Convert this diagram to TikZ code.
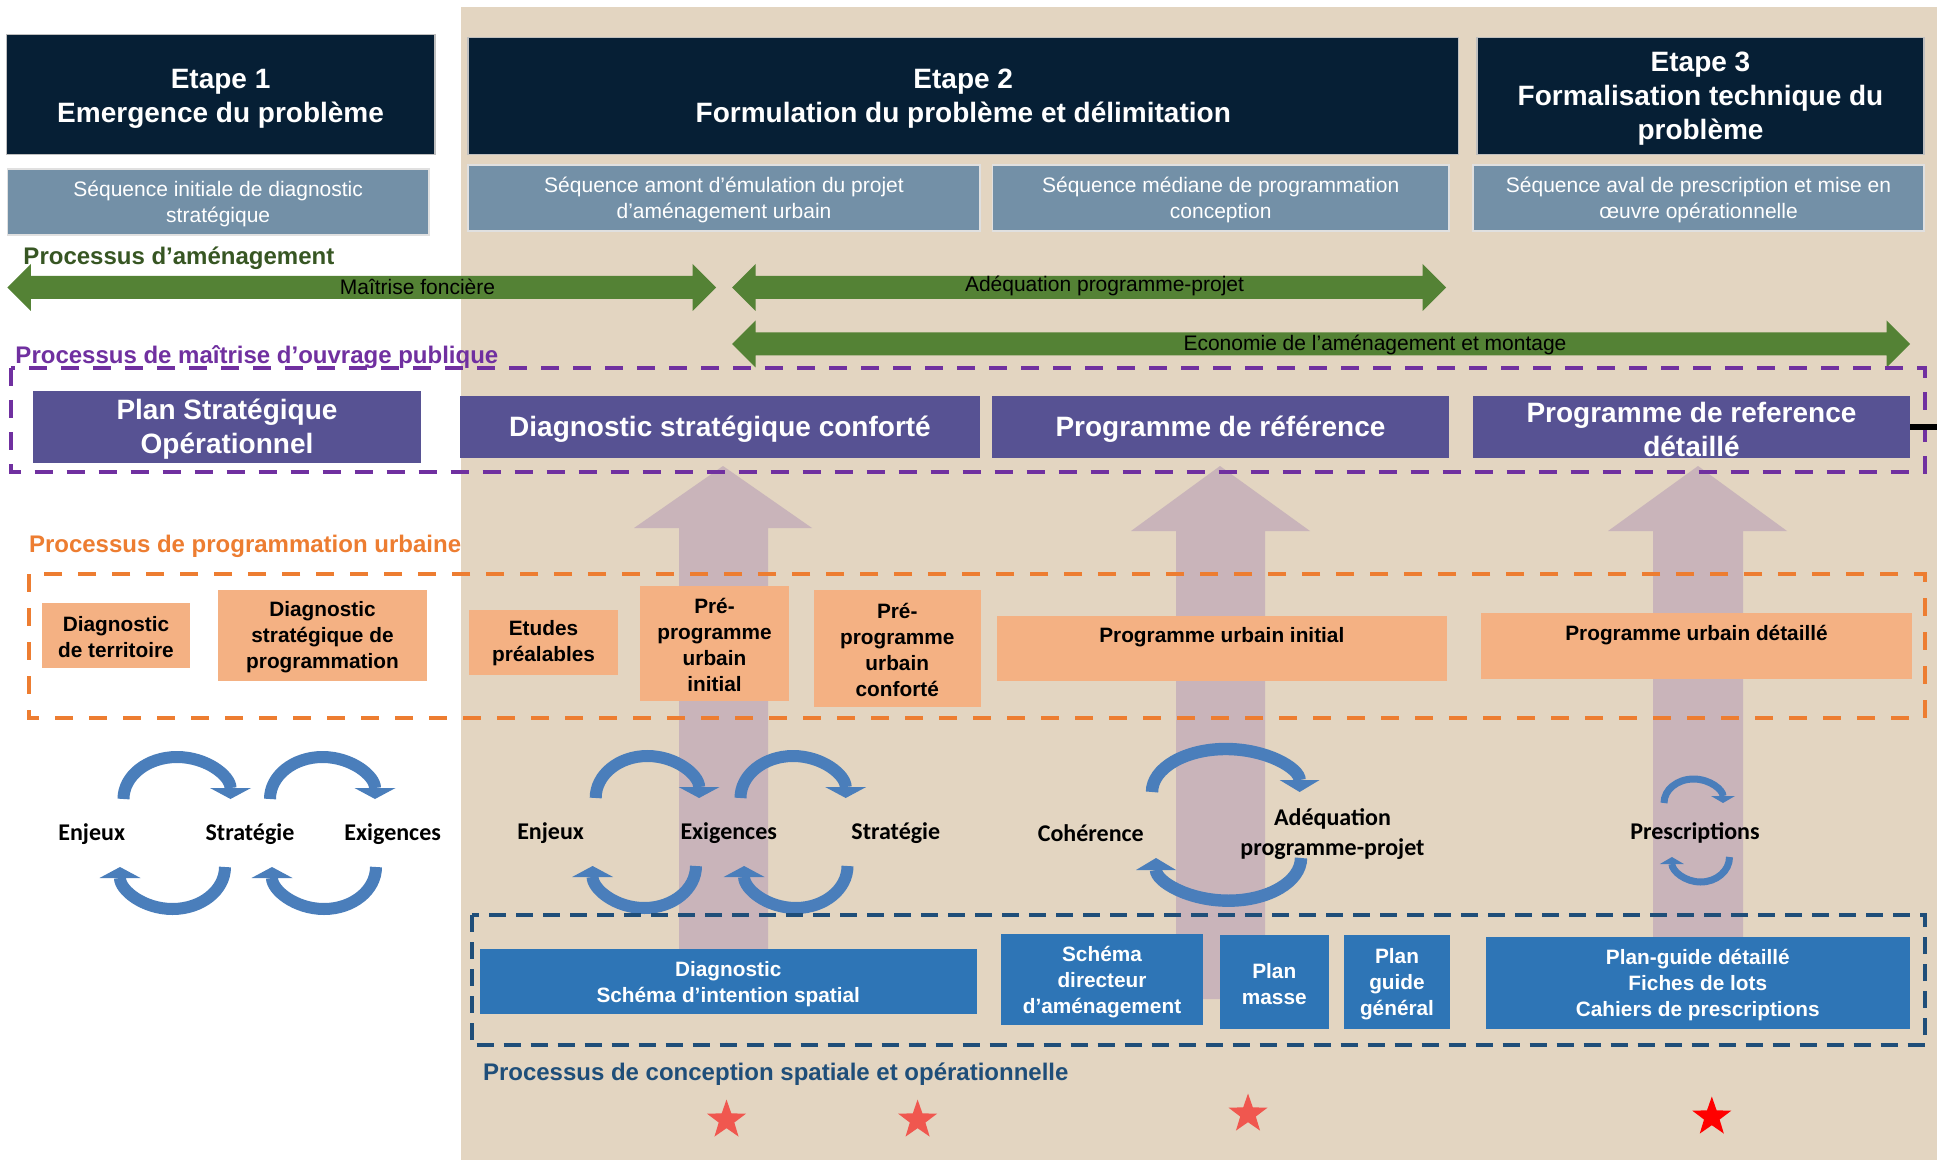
\documentclass[tikz,border=0pt]{standalone}
\usepackage{fontspec}
\setmainfont{Liberation Sans}
\newfontfamily\calib{Carlito}
\usetikzlibrary{shapes.geometric,arrows.meta}
\definecolor{cnavy}{HTML}{061F35}
\definecolor{cseq}{HTML}{7390A7}
\definecolor{cbeige}{HTML}{E3D5C1}
\definecolor{cgr}{HTML}{548235}
\definecolor{cgrtxt}{HTML}{375623}
\definecolor{cpurp}{HTML}{7030A0}
\definecolor{cpbox}{HTML}{575293}
\definecolor{corng}{HTML}{ED7D31}
\definecolor{cobox}{HTML}{F4B183}
\definecolor{cdblue}{HTML}{1F4E79}
\definecolor{cbbox}{HTML}{2E75B6}
\definecolor{cbig}{HTML}{C9B4BA}
\definecolor{ccyc}{HTML}{4A7EBB}
\definecolor{cstarA}{HTML}{F0574F}
\definecolor{cstarB}{HTML}{FF0000}
\newcommand\bx[7]{\node[#1, minimum width={(#5-#3)*0.5pt}, minimum height={(#6-#4)*0.5pt}] (#2) at ({(#3+#5)/2},{(#4+#6)/2}) {};
  \node[#1, fill=none, draw=none, #1 text] (#2t) at (#2.center) {#7};}
\newcommand\garrow[3]{\fill[cgr] (#1,#3) -- ({#1+23.5},{#3-23.5}) -- ({#1+23.5},{#3-11.5}) -- ({#2-23.5},{#3-11.5}) -- ({#2-23.5},{#3-23.5}) -- (#2,#3) -- ({#2-23.5},{#3+23.5}) -- ({#2-23.5},{#3+11.5}) -- ({#1+23.5},{#3+11.5}) -- ({#1+23.5},{#3+23.5}) -- cycle;}
\newcommand\bigarrow[8]{\fill[cbig] (#1,#8) -- (#1,#5) -- (#3,#5) -- (#6,#7) -- (#4,#5) -- (#2,#5) -- (#2,#8) -- cycle;}
\begin{document}
\begin{tikzpicture}[x=0.5pt,y=-0.5pt,
  every node/.style={inner sep=0pt, outer sep=0pt},
  titlebox/.style={fill=cnavy, draw=black!25, line width=0.6pt, text=white, font=\bfseries\fontsize{14}{17}\selectfont, align=center},
  titlebox text/.style={yshift=-2.2pt},
  titleboxb/.style={titlebox},
  titleboxb text/.style={yshift=-1.3pt},
  seqbox/.style={fill=cseq, draw=black!12, line width=0.6pt, text=white, font=\fontsize{10.5}{13}\selectfont, align=center},
  seqbox text/.style={yshift=-1.2pt},
  pbox/.style={fill=cpbox, text=white, font=\bfseries\fontsize{14}{17}\selectfont, align=center},
  pbox text/.style={yshift=-1.2pt},
  orbox/.style={fill=cobox, text=black, font=\bfseries\fontsize{10.4}{13}\selectfont, align=center},
  orbox text/.style={yshift=-0.6pt},
  blbox/.style={fill=cbbox, text=white, font=\bfseries\fontsize{10.4}{13}\selectfont, align=center},
  blbox text/.style={yshift=-1.2pt},
  arrlabel/.style={text=black, font=\fontsize{10.5}{13}\selectfont},
  proclabel/.style={anchor=west, font=\bfseries\fontsize{12}{14}\selectfont, yshift=-0.6pt},
  cyclabel/.style={text=black, font=\calib\bfseries\fontsize{12}{15}\selectfont, align=center, yshift=-0.6pt},
  cycarrow/.style n args={3}{draw=ccyc, line width=#1, -{Triangle[width=#2,length=#3,line width=0pt]}},
  redstar/.style={star, star points=5, star point ratio=2.5, minimum size=20.5pt, fill=#1},
]
\useasboundingbox (0,0) rectangle (1937,1160);
\fill[white] (0,0) rectangle (1937,1160);
\fill[cbeige] (461,6.7) rectangle (1937,1160);

% Etapes
\bx{titlebox}{t1}{6.2}{34.3}{435}{154.3}{Etape 1\\Emergence du problème}
\bx{titleboxb}{t2}{468}{37.7}{1458.5}{154.3}{Etape 2\\Formulation du problème et délimitation}
\bx{titleboxb}{t3}{1477}{37.7}{1924}{154.3}{Etape 3\\Formalisation technique du\\problème}

% Sequences
\bx{seqbox}{s1}{7.4}{169}{429}{235}{Séquence initiale de diagnostic\\stratégique}
\bx{seqbox}{s2}{468}{165}{980}{231}{Séquence amont d’émulation du projet\\d’aménagement urbain}
\bx{seqbox}{s3}{992.4}{165}{1449}{231}{Séquence médiane de programmation\\conception}
\bx{seqbox}{s4}{1473}{165}{1924}{231}{Séquence aval de prescription et mise en\\œuvre opérationnelle}

% Processus d'amenagement
\node[proclabel, text=cgrtxt] (lamen) at (23.5,257) {Processus d’aménagement};
\garrow{7.4}{716}{287.5}
\garrow{732}{1446}{287.5}
\garrow{732}{1910}{344}
\node[arrlabel] (mf) at (417.5,287) {Maîtrise foncière};
\node[arrlabel] (app) at (1104.5,285.5) {Adéquation programme-projet};
\node[arrlabel, yshift=-0.5pt] (eco) at (1375,344) {Economie de l’aménagement et montage};

% big arrows
\bigarrow{679}{768}{634}{812}{528}{723}{466}{949}
\bigarrow{1176}{1265}{1131}{1310}{531}{1220}{466}{999}
\bigarrow{1653}{1743}{1608}{1787}{531}{1698}{466}{937}

% Maitrise d'ouvrage
\node[proclabel, text=cpurp] (lmoa) at (15.5,356) {Processus de maîtrise d’ouvrage publique};
\draw[cpurp, line width=2pt, dash pattern=on 9pt off 7pt] (10.5,368) rectangle (1924.5,472);
\bx{pbox}{p1}{33}{391}{421}{463}{Plan Stratégique\\Opérationnel}
\bx{pbox}{p2}{460}{396}{980}{458}{Diagnostic stratégique conforté}
\bx{pbox}{p3}{992}{396}{1449}{458}{Programme de référence}
\bx{pbox}{p4}{1473}{396}{1910}{458}{Programme de reference\\détaillé}
\coordinate (pend) at (1937,427);
\draw[black, line width=3pt] (p4.east) -- (pend);

% Programmation urbaine
\node[proclabel, text=corng] (lprog) at (29,545) {Processus de programmation urbaine};
\draw[corng, line width=2pt, dash pattern=on 9pt off 8pt] (29,574) rectangle (1924.5,718);
\bx{orbox}{o1}{42}{603}{190}{668}{Diagnostic\\de territoire}
\bx{orbox}{o2}{218}{590}{427}{681}{Diagnostic\\stratégique de\\programmation}
\bx{orbox}{o3}{469}{609.7}{618}{674.7}{Etudes\\préalables}
\bx{orbox}{o4}{640}{585.7}{789}{701}{Pré-\\programme\\urbain\\initial}
\bx{orbox}{o5}{813.5}{590}{981}{706.7}{Pré-\\programme\\urbain\\conforté}
\bx{orbox}{o6}{997}{616}{1446.6}{681}{}
\bx{orbox}{o7}{1481}{613}{1912}{678.7}{}
\node[orbox, fill=none, orbox text] (o6l) at (1221.8,636) {Programme urbain initial};
\node[orbox, fill=none, orbox text] (o7l) at (1696.5,634) {Programme urbain détaillé};

% cycle labels
\node[cyclabel] (enj1) at (91.7,833) {Enjeux};
\node[cyclabel] (str1) at (250,833) {Stratégie};
\node[cyclabel] (exi1) at (392.7,833) {Exigences};
\node[cyclabel] (enj2) at (550.6,832) {Enjeux};
\node[cyclabel] (exi2) at (728.7,832) {Exigences};
\node[cyclabel] (str2) at (895.8,832) {Stratégie};
\node[cyclabel] (coh) at (1090.8,832) {Cohérence};
\node[cyclabel] (adq) at (1332.5,833) {Adéquation\\programme-projet};
\node[cyclabel] (presc) at (1695,832) {Prescriptions};

% cycle arrows
\draw[cycarrow={6pt}{20.5pt}{5.5pt}] (123.5,799) arc[start angle=180, end angle=360, x radius=53.5, y radius=42];
\draw[cycarrow={6pt}{20.5pt}{5.5pt}] (270,799) arc[start angle=180, end angle=360, x radius=52.5, y radius=42];
\draw[cycarrow={6pt}{20.5pt}{5.5pt}] (225,867) arc[start angle=0, end angle=180, x radius=52.5, y radius=42];
\draw[cycarrow={6pt}{20.5pt}{5.5pt}] (376,867) arc[start angle=0, end angle=180, x radius=52, y radius=42];
\draw[cycarrow={6pt}{20.5pt}{5.5pt}] (595.7,798) arc[start angle=180, end angle=360, x radius=51.7, y radius=42];
\draw[cycarrow={6pt}{20.5pt}{5.5pt}] (740.5,798) arc[start angle=180, end angle=360, x radius=52.6, y radius=42];
\draw[cycarrow={6pt}{20.5pt}{5.5pt}] (696,866) arc[start angle=0, end angle=180, x radius=51.7, y radius=42];
\draw[cycarrow={6pt}{20.5pt}{5.5pt}] (847.5,866) arc[start angle=0, end angle=180, x radius=51.7, y radius=42];
\draw[cycarrow={6.2pt}{20pt}{6pt}] (1152,792) arc[start angle=180, end angle=360, x radius=73.8, y radius=43];
\draw[cycarrow={6.2pt}{20pt}{6pt}] (1301,858) arc[start angle=0, end angle=180, x radius=72.5, y radius=42.7];
\draw[cycarrow={3.5pt}{12pt}{3.5pt}] (1664,803) arc[start angle=180, end angle=360, x radius=29.5, y radius=24];
\draw[cycarrow={3.5pt}{12pt}{3.5pt}] (1729.5,857) arc[start angle=0, end angle=180, x radius=28.8, y radius=25];

% Conception spatiale
\draw[cdblue, line width=2pt, dash pattern=on 8.5pt off 5pt] (471.5,915) rectangle (1924.5,1045);
\bx{blbox}{b1}{480}{949}{976.5}{1014}{Diagnostic\\Schéma d’intention spatial}
\bx{blbox}{b2}{1001}{934}{1203}{1025}{Schéma\\directeur\\d’aménagement}
\bx{blbox}{b3}{1219.5}{935}{1329}{1028.7}{Plan\\masse}
\bx{blbox}{b4}{1344}{935}{1450}{1028.7}{Plan\\guide\\général}
\bx{blbox}{b5}{1486}{937}{1909.6}{1028.7}{Plan-guide détaillé\\Fiches de lots\\Cahiers de prescriptions}
\node[proclabel, text=cdblue] (lconc) at (483,1073) {Processus de conception spatiale et opérationnelle};

% stars
\node[redstar=cstarA] (st1) at (726.5,1120) {};
\node[redstar=cstarA] (st2) at (917.6,1120) {};
\node[redstar=cstarA] (st3) at (1248,1114) {};
\node[redstar=cstarB] (st4) at (1711.8,1117) {};
\end{tikzpicture}
\end{document}
